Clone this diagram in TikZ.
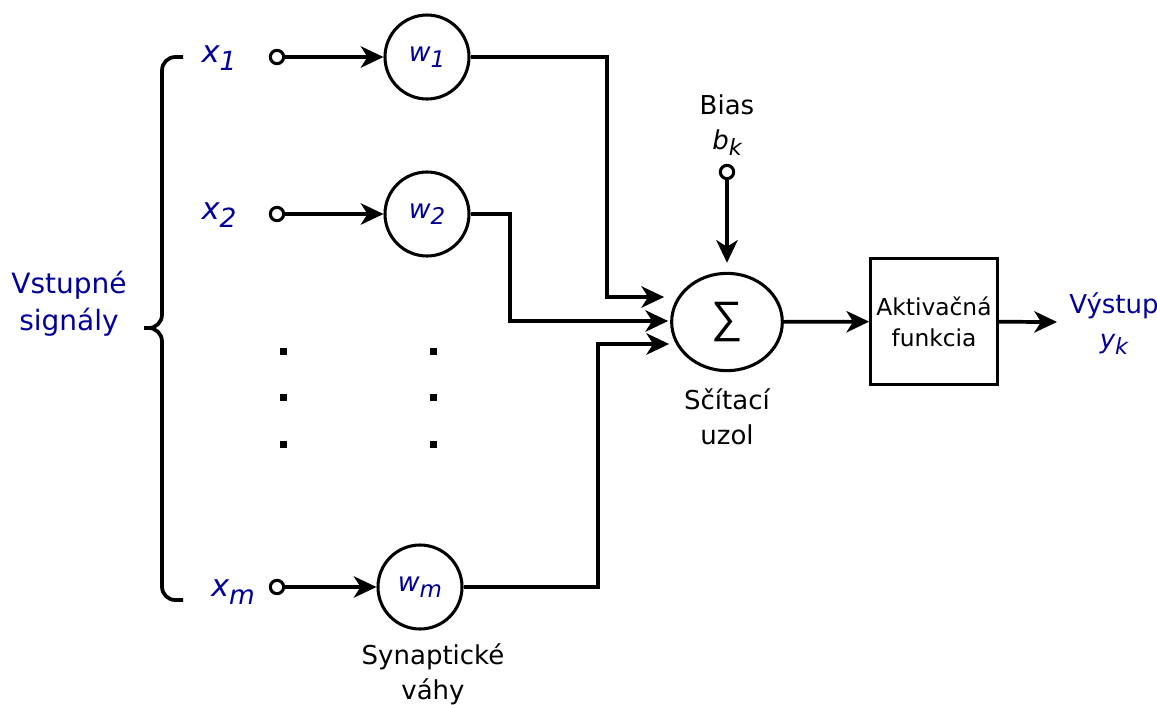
\documentclass[tikz,border=0pt]{standalone}
\usepackage{fontspec}
\setmainfont{DejaVu Sans}
\newfontfamily\sumfont{Liberation Sans}
\usetikzlibrary{positioning, arrows.meta, calc, shapes.geometric}
\definecolor{sigblue}{RGB}{0,0,153}
\newcommand{\lo}[1]{\raisebox{-0.45ex}{\scalebox{0.86}{#1}}}

\begin{document}
\begin{tikzpicture}[
			x=0.75pt, y=-0.75pt,
			line width=2.3pt,
			weight/.style={draw, circle, minimum size=63pt, inner sep=0pt, font=\fontsize{20}{24}\selectfont\itshape, text=sigblue},
			port/.style={draw, circle, minimum size=10pt, inner sep=0pt, fill=white},
			invar/.style={font=\fontsize{23}{26}\selectfont\itshape, text=sigblue, inner sep=1pt},
			sumnode/.style={draw, ellipse, minimum width=83pt, minimum height=73pt, inner sep=0pt, font=\sumfont\fontsize{33}{33}\selectfont},
			actbox/.style={draw, rectangle, minimum width=95pt, minimum height=94pt, align=center, font=\fontsize{17.5}{23}\selectfont},
			txt/.style={align=center, font=\fontsize{19.5}{26}\selectfont, inner sep=1pt},
			wire/.style={line width=2.8pt},
			arrow/.style={wire, -{Stealth[length=17pt, width=16pt, inset=5pt]}}
			]
			\useasboundingbox (0,0) rectangle (1157,704);
			
			% Nodes
			\node[invar] (x1) at (219,58) {x\lo{1}};
			\node[port] (p1) at (277,57) {};
			\node[weight] (w1) at (427,57) {w\lo{1}};
			
			\node[invar] (x2) at (219,215) {x\lo{2}};
			\node[port] (p2) at (277,214) {};
			\node[weight] (w2) at (427,214) {w\lo{2}};
			
			\node[invar] (xm) at (233,592) {x\lo{m}};
			\node[port] (pm) at (277,587) {};
			\node[weight] (wm) at (420,587) {w\lo{m}};
			
			\node[sumnode] (sum) at (727,322) {∑};
			\node[port] (pb) at (727,172) {};
			\node[txt] (bias) at (727,125) {Bias\\{\itshape b\lo{k}}};
			
			\node[actbox] (act) at (934,321.5) {Aktivačná\\funkcia};
			\node[txt, text=sigblue] (out) at (1114,324) {Výstup\\{\itshape y\lo{k}}};
			\coordinate (yend) at (1057,322);
			
			\node[txt] (sumlbl) at (727,417) {Sčítací\\uzol};
			\node[txt] (synlbl) at (433,674) {Synaptické\\váhy};
			\node[txt, text=sigblue, font=\fontsize{21}{28}\selectfont] (inlbl) at (69,304) {Vstupné\\signály};
			
			% Brace
			\draw[wire, rounded corners=10] (183,57) -| (162,328) -- (144,328);
			\draw[wire, rounded corners=10] (183,600) -| (162,328) -- (144,328);
			
			% Dots
			\foreach \xx in {283,433}
				\foreach \yy in {351,397,444}
					\fill (\xx-3.5,\yy-3.5) rectangle ++(7,7);
			
			% Arrows
			\draw[arrow] (p1) -- (w1);
			\draw[arrow] (p2) -- (w2);
			\draw[arrow] (pm) -- (wm);
			
			\draw[arrow] (w1.east) -| (607,297) -- ($(sum.west)+(-6,-25)$);
			\draw[arrow] (w2.east) -| (510,321) -- ($(sum.west)+(-2,-1)$);
			\draw[arrow] (wm.east) -| (598,344) -- ($(sum.west)+(-1,22)$);
			
			\draw[arrow] (pb) -- ($(sum.north)+(0,-9)$);
			\draw[arrow] (sum) -- (act);
			\draw[arrow] (act) -- (yend);
			
		\end{tikzpicture}
\end{document}
